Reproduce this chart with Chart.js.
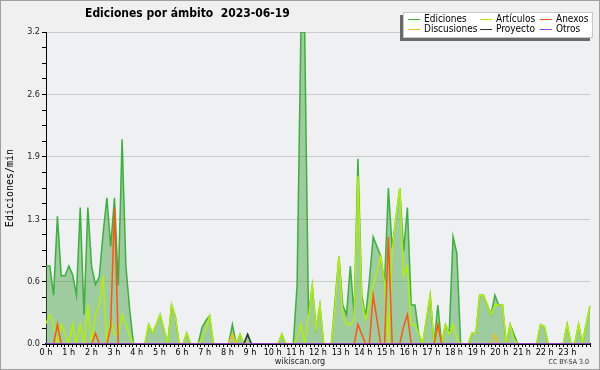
<!DOCTYPE html>
<html>
<head>
<meta charset="utf-8">
<script src="https://cdn.jsdelivr.net/npm/chart.js@4.4.1/dist/chart.umd.min.js"></script>
<style>
  body { margin: 0; background: #f0f0f0; }
  #wrap { position: relative; width: 600px; height: 370px; background: #f0f0f0; overflow: hidden; }
  #wrap canvas { position: absolute; left: 0; top: 0; }
  .txt { position: absolute; font-family: "DejaVu Sans Condensed", "DejaVu Sans", sans-serif; font-stretch: condensed; white-space: pre; color: #000; }
  #title { left: 85px; top: 6px; font-size: 12px; font-weight: bold; line-height: 14px; }
  #legend { position: absolute; left: 403px; top: 12px; width: 188px; height: 24px; background: #fff; border: 1px solid #c8c8c8; box-shadow: -3px 3px 0 #6a6a6a; }
  #legend .txt { font-size: 10px; line-height: 10px; }
  #legend i { position: absolute; width: 12px; height: 1px; }
  #site { left: 0; width: 600px; text-align: center; top: 356px; font-size: 9px; line-height: 10px; color: #222; }
  #lic { right: 11px; top: 358px; font-size: 7px; line-height: 8px; color: #333; }
  #frame { position: absolute; left: 0; top: 0; width: 598px; height: 368px; border: 1px solid #a0a0a0; pointer-events: none; }
</style>
</head>
<body>
<div id="wrap">
  <canvas id="chart" width="600" height="370"></canvas>
  <div id="title" class="txt">Ediciones por ámbito  2023-06-19</div>
  <div id="legend"></div>
  <div id="site" class="txt">wikiscan.org</div>
  <div id="lic" class="txt">CC BY-SA 3.0</div>
  <div id="frame"></div>
</div>
<script>
// ediciones por minuto, un valor cada 10 minutos (00:00 .. 23:50)
let ediciones = [
  0.8, 0.8, 0.5, 1.31, 0.7, 0.7, 0.8, 0.71, 0.5, 1.4, 0.3, 1.4,
  0.79, 0.61, 0.69, 1.13, 1.5, 1.0, 1.5, 0.6, 2.1, 0.8, 0.35, 0,
  0, 0, 0, 0.2, 0.11, 0.2, 0.3, 0.15, 0, 0.4, 0.28, 0,
  0, 0.11, 0, 0, 0, 0.17, 0.24, 0.29, 0, 0, 0, 0,
  0, 0.2, 0, 0.1, 0, 0.1, 0, 0, 0, 0, 0, 0,
  0, 0, 0.1, 0, 0, 0, 0.6, 3.2, 3.2, 0.3, 0.6, 0.16,
  0.4, 0, 0, 0, 0.45, 0.9, 0.4, 0.3, 0.8, 0.3, 1.9, 0.5,
  0.28, 0.65, 1.1, 1.0, 0.9, 0.62, 1.6, 0.98, 1.3, 1.6, 0.95, 1.4,
  0.4, 0.4, 0.1, 0, 0.25, 0.5, 0, 0.4, 0, 0.2, 0.11, 1.1,
  0.93, 0, 0, 0, 0.11, 0.11, 0.5, 0.5, 0.4, 0.3, 0.5, 0.4,
  0.4, 0, 0.2, 0.1, 0, 0, 0, 0, 0, 0, 0.2, 0.18,
  0, 0, 0, 0, 0, 0.2, 0, 0, 0.2, 0, 0.2, 0.39
];
let articulos = [
  0.21, 0.3, 0.2, 0, 0.2, 0.1, 0, 0.2, 0, 0.2, 0, 0.4,
  0, 0.3, 0.4, 0.7, 0, 0.25, 0.1, 0.1, 0.3, 0.21, 0.08, 0,
  0, 0, 0, 0.2, 0.11, 0.2, 0.3, 0.15, 0, 0.4, 0.28, 0,
  0, 0.11, 0, 0, 0, 0.05, 0.15, 0.29, 0, 0, 0, 0,
  0, 0.1, 0, 0.1, 0, 0, 0, 0, 0, 0, 0, 0,
  0, 0, 0.1, 0, 0, 0, 0.05, 0.2, 0, 0.27, 0.6, 0.15,
  0.4, 0, 0, 0, 0.4, 0.9, 0.3, 0.2, 0.2, 0.25, 1.72, 0.45,
  0.25, 0.4, 0.6, 0.75, 0.9, 0.62, 0, 0.95, 1.3, 1.6, 0.7, 0.8,
  0.2, 0.2, 0.1, 0, 0.25, 0.5, 0, 0.2, 0, 0.2, 0.1, 0.2,
  0.05, 0, 0, 0, 0.11, 0.11, 0.5, 0.5, 0.4, 0.3, 0.4, 0.4,
  0.4, 0, 0.2, 0.05, 0, 0, 0, 0, 0, 0, 0.2, 0.18,
  0, 0, 0, 0, 0, 0.2, 0, 0, 0.2, 0, 0.2, 0.39
];
let anexos = [
  0, 0, 0, 0.2, 0, 0, 0, 0, 0, 0, 0, 0,
  0, 0.11, 0, 0, 0, 0.18, 1.4, 0, 0, 0, 0, 0,
  0, 0, 0, 0, 0, 0, 0, 0, 0, 0, 0, 0,
  0, 0, 0, 0, 0, 0, 0, 0, 0, 0, 0, 0,
  0, 0, 0, 0, 0, 0, 0, 0, 0, 0, 0, 0,
  0, 0, 0, 0, 0, 0, 0, 0, 0, 0, 0, 0,
  0, 0, 0, 0, 0, 0, 0, 0, 0, 0, 0.2, 0.1,
  0, 0, 0.5, 0.25, 0, 0, 1.1, 0, 0, 0, 0.18, 0.3,
  0, 0, 0, 0, 0, 0, 0, 0.2, 0, 0, 0, 0,
  0, 0, 0, 0, 0, 0, 0, 0, 0, 0, 0, 0,
  0, 0, 0, 0, 0, 0, 0, 0, 0, 0, 0, 0,
  0, 0, 0, 0, 0, 0, 0, 0, 0, 0, 0, 0
];
let discusiones = [
  0, 0, 0, 0, 0, 0, 0, 0, 0, 0, 0, 0,
  0, 0, 0, 0, 0, 0, 0, 0, 0, 0, 0, 0,
  0, 0, 0, 0, 0, 0, 0, 0, 0, 0, 0, 0,
  0, 0, 0, 0, 0, 0, 0, 0, 0, 0, 0, 0,
  0, 0.1, 0, 0, 0, 0, 0, 0, 0, 0, 0, 0,
  0, 0, 0, 0, 0, 0, 0, 0, 0, 0, 0, 0,
  0, 0, 0, 0, 0, 0, 0, 0, 0, 0, 0, 0,
  0, 0, 0, 0, 0, 0, 0, 0, 0, 0, 0, 0,
  0, 0, 0, 0, 0, 0, 0, 0, 0, 0, 0, 0,
  0, 0, 0, 0, 0, 0, 0, 0, 0, 0, 0.1, 0,
  0, 0, 0, 0, 0, 0, 0, 0, 0, 0, 0, 0,
  0, 0, 0, 0, 0, 0, 0, 0, 0, 0, 0, 0
];
let proyecto = [
  0, 0, 0, 0, 0, 0, 0, 0, 0, 0, 0, 0,
  0, 0, 0, 0, 0, 0, 0, 0, 0, 0, 0, 0,
  0, 0, 0, 0, 0, 0, 0, 0, 0, 0, 0, 0,
  0, 0, 0, 0, 0, 0, 0, 0, 0, 0, 0, 0,
  0, 0, 0, 0, 0, 0.1, 0, 0, 0, 0, 0, 0,
  0, 0, 0, 0, 0, 0, 0, 0, 0, 0, 0, 0,
  0, 0, 0, 0, 0, 0, 0, 0, 0, 0, 0, 0,
  0, 0, 0, 0, 0, 0, 0, 0, 0, 0, 0, 0,
  0, 0, 0, 0, 0, 0, 0, 0, 0, 0, 0, 0,
  0, 0, 0, 0, 0, 0, 0, 0, 0, 0, 0, 0,
  0, 0, 0, 0, 0, 0, 0, 0, 0, 0, 0, 0,
  0, 0, 0, 0, 0, 0, 0, 0, 0, 0, 0, 0
];
let otros = [
  0, 0, 0, 0, 0, 0, 0, 0, 0, 0, 0, 0,
  0, 0, 0, 0, 0, 0, 0, 0, 0, 0, 0, 0,
  0, 0, 0, 0, 0, 0, 0, 0, 0, 0, 0, 0,
  0, 0, 0, 0, 0, 0, 0, 0, 0, 0, 0, 0,
  0, 0, 0, 0, 0, 0, 0, 0, 0, 0, 0, 0,
  0, 0, 0, 0, 0, 0, 0, 0, 0, 0, 0, 0,
  0, 0, 0, 0, 0, 0, 0, 0, 0, 0, 0, 0,
  0, 0, 0, 0, 0, 0, 0, 0, 0, 0, 0, 0,
  0, 0, 0, 0, 0, 0, 0, 0, 0, 0, 0, 0,
  0, 0, 0, 0, 0, 0, 0, 0, 0, 0, 0, 0,
  0, 0, 0, 0, 0, 0, 0, 0, 0, 0, 0, 0,
  0, 0, 0, 0, 0, 0, 0, 0, 0, 0, 0, 0
];

let hourLabels = ["0 h", "1 h", "2 h", "3 h", "4 h", "5 h", "6 h", "7 h", "8 h", "9 h", "10 h", "11 h",
  "12 h", "13 h", "14 h", "15 h", "16 h", "17 h", "18 h", "19 h", "20 h", "21 h", "22 h", "23 h"];
let yMax = 3.2;
let yStep = 0.64;   // etiquetas
let yMinor = 0.16;  // marcas pequeñas

// franjas de 10 minutos
let slots = [];
for (let h = 0; h < 24; h++) {
  for (let m = 0; m < 60; m += 10) {
    slots.push(String(h).padStart(2, "0") + ":" + String(m).padStart(2, "0"));
  }
}

let FONT = '"DejaVu Sans Condensed", "DejaVu Sans", sans-serif';

// orden del array = orden de dibujo inverso (el ultimo queda debajo)
let series = [
  { name: "Otros", data: otros, color: "#9a3ff0" },
  { name: "Proyecto", data: proyecto, color: "#2f3a2f" },
  { name: "Discusiones", data: discusiones, color: "#f0c020" },
  { name: "Anexos", data: anexos, color: "#ff5512" },
  { name: "Artículos", data: articulos, color: "#b4ee0a" },
  { name: "Ediciones", data: ediciones, color: "#3caf3c", fill: "rgba(60,160,60,0.45)" },
];
let legendOrder = ["Ediciones", "Discusiones", "Artículos", "Proyecto", "Anexos", "Otros"];

function isMajor(v) {
  let r = v / yStep;
  return Math.abs(r - Math.round(r)) < 1e-6;
}

function buildLegend() {
  let box = document.getElementById("legend");
  let colX = [20, 92, 152];
  let rowY = [1, 11];
  for (let k = 0; k < legendOrder.length; k++) {
    let s = series.find(d => d.name == legendOrder[k]);
    let col = Math.floor(k / 2);
    let row = k % 2;
    let line = document.createElement("i");
    line.style.left = (colX[col] - 16) + "px";
    line.style.top = (rowY[row] + 5) + "px";
    line.style.background = s.color;
    box.appendChild(line);
    let t = document.createElement("span");
    t.className = "txt";
    t.textContent = s.name;
    t.style.left = colX[col] + "px";
    t.style.top = rowY[row] + "px";
    box.appendChild(t);
  }
}

let plotBg = {
  id: "plotBg",
  beforeDraw(chart) {
    let a = chart.chartArea;
    let ctx = chart.ctx;
    ctx.save();
    ctx.fillStyle = "#eef0f2";
    ctx.fillRect(a.left, a.top, a.right - a.left, a.bottom - a.top);
    ctx.restore();
  }
};

function createChart() {
  let datasets = series.map(s => ({
    label: s.name,
    data: s.data,
    borderColor: s.color,
    backgroundColor: s.fill || s.color,
    fill: s.fill ? "origin" : false,
    borderWidth: 1.5,
    pointRadius: 0,
    tension: 0,
  }));

  new Chart(document.getElementById("chart"), {
    type: "line",
    data: { labels: slots, datasets: datasets },
    plugins: [plotBg],
    options: {
      responsive: false,
      animation: false,
      layout: { padding: { left: 0, right: 10, top: 32, bottom: 0 } },
      plugins: { legend: { display: false }, tooltip: { enabled: false } },
      scales: {
        x: { type: "category", display: false, offset: false },
        hours: {
          type: "linear",
          position: "bottom",
          min: 0,
          max: 1440,
          z: 1,
          afterFit: s => { s.height = 26; },
          border: { color: "#000", width: 2 },
          grid: { drawOnChartArea: false, tickColor: "#000", tickLength: 3 },
          ticks: {
            stepSize: 10,
            autoSkip: false,
            maxRotation: 0,
            padding: 0,
            color: "#000",
            font: { family: FONT, size: 9 },
            callback: v => (v % 60 === 0 && v / 60 < hourLabels.length) ? hourLabels[v / 60] : "",
          },
        },
        y: {
          min: 0,
          max: yMax,
          afterFit: s => { s.width = 46; },
          border: { color: "#000", width: 1 },
          grid: {
            color: c => isMajor(c.tick.value) ? "#cbcbcb" : "rgba(0,0,0,0)",
            tickColor: "#000",
            tickLength: 4,
          },
          ticks: {
            stepSize: yMinor,
            autoSkip: false,
            padding: 2,
            color: "#222",
            font: { family: FONT, size: 9 },
            callback: v => isMajor(v) ? v.toFixed(1) : "",
          },
          title: {
            display: true,
            text: "Ediciones/min",
            color: "#000",
            font: { family: "DejaVu Sans Mono", size: 10 },
            padding: { top: 4, bottom: 0 },
          },
        },
      },
    },
  });
}

buildLegend();
createChart();
</script>
</body>
</html>
